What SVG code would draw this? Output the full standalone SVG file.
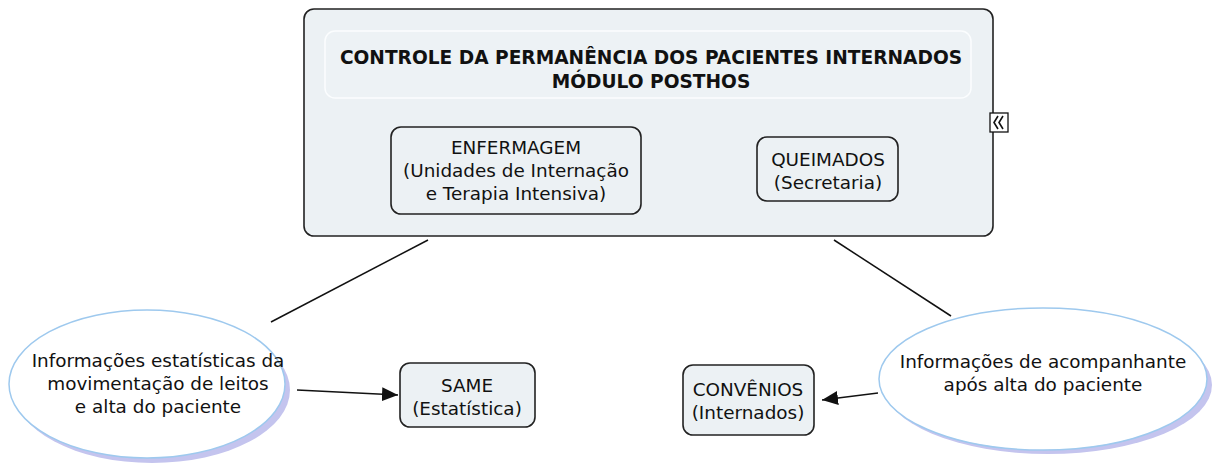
<svg xmlns="http://www.w3.org/2000/svg" width="1214" height="464" viewBox="0 0 1214 464">
<defs>
<style>
text{font-family:"DejaVu Sans",Verdana,sans-serif;fill:#111;text-anchor:middle}
.t{font-size:18.4px}
.b{font-size:18.6px;font-weight:bold}
.box{fill:#ecf1f4;stroke:#222;stroke-width:1.6}
.ell{fill:#fff;stroke:#9ec9ee;stroke-width:1.5}
.sh{fill:#c4c4ee}
.ln{stroke:#111;stroke-width:1.5;fill:none}
</style>
<marker id="ah" viewBox="0 0 16 14" refX="16" refY="7" markerWidth="16" markerHeight="14" markerUnits="userSpaceOnUse" orient="auto">
<path d="M0,0 L16,7 L0,14 z" fill="#111"/>
</marker>
</defs>
<rect width="1214" height="464" fill="#fff"/>
<g id="connectors">
<line class="ln" x1="271" y1="322" x2="428" y2="240"/>
<line class="ln" x1="834" y1="240" x2="951" y2="316"/>
<line class="ln" x1="297" y1="390" x2="398" y2="395" marker-end="url(#ah)"/>
<line class="ln" x1="878" y1="393" x2="822" y2="400" marker-end="url(#ah)"/>
</g>
<g id="main">
<rect class="box" x="304" y="9" width="689" height="227" rx="10"/>
<rect x="325" y="31" width="646" height="67" rx="10" fill="#edf2f5" stroke="#fbfdfe" stroke-width="1.5"/>
<text class="b" x="651" y="64">CONTROLE DA PERMANÊNCIA DOS PACIENTES INTERNADOS</text>
<text class="b" x="651" y="88">MÓDULO POSTHOS</text>
</g>
<g id="expand">
<rect x="990" y="113" width="18" height="19" fill="#fff" stroke="#111" stroke-width="1.3"/>
<path d="M998,116 L994,122.5 L998,129 M1003,116 L999,122.5 L1003,129" stroke="#111" stroke-width="1.6" fill="none"/>
</g>
<g id="enfermagem">
<rect class="box" x="391" y="127" width="250" height="87" rx="10"/>
<text class="t" x="516" y="154">ENFERMAGEM</text>
<text class="t" x="516" y="177">(Unidades de Internação</text>
<text class="t" x="516" y="200">e Terapia Intensiva)</text>
</g>
<g id="queimados">
<rect class="box" x="757" y="137" width="141" height="64" rx="10"/>
<text class="t" x="828" y="166">QUEIMADOS</text>
<text class="t" x="828" y="189">(Secretaria)</text>
</g>
<g id="info-estatisticas">
<ellipse class="sh" cx="152" cy="390" rx="138" ry="73"/>
<ellipse class="ell" cx="147" cy="384" rx="138" ry="74"/>
<text class="t" x="158" y="367">Informações estatísticas da</text>
<text class="t" x="158" y="390">movimentação de leitos</text>
<text class="t" x="158" y="413">e alta do paciente</text>
</g>
<g id="same">
<rect class="box" x="400" y="363" width="135" height="64" rx="10"/>
<text class="t" x="467" y="392">SAME</text>
<text class="t" x="467" y="415">(Estatística)</text>
</g>
<g id="info-acompanhante">
<ellipse class="sh" cx="1048" cy="385" rx="164" ry="69"/>
<ellipse class="ell" cx="1043" cy="379" rx="164" ry="71"/>
<text class="t" x="1043" y="368">Informações de acompanhante</text>
<text class="t" x="1043" y="391">após alta do paciente</text>
</g>
<g id="convenios">
<rect class="box" x="683" y="365" width="131" height="70" rx="10"/>
<text class="t" x="748" y="396">CONVÊNIOS</text>
<text class="t" x="748" y="419">(Internados)</text>
</g>
</svg>
